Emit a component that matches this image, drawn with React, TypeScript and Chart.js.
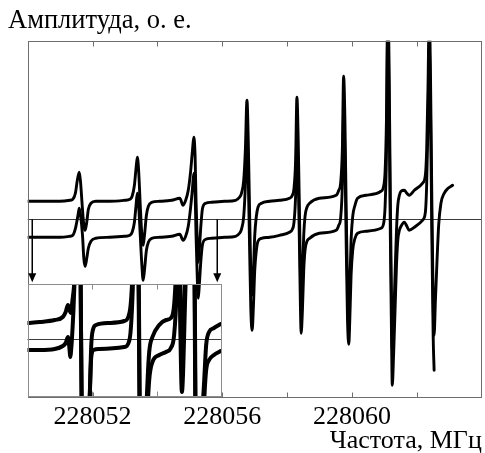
import React, { useEffect, useRef } from "react";
import { Chart, registerables } from "chart.js";

Chart.register(...registerables);

// ---------- data (frequency in MHz, amplitude in relative units) ----------
const upperFreq = [
  228050.0, 228050.99, 228051.3,
  228051.39, 228051.47, 228051.53, 228051.59, 228051.63, 228051.68, 228051.73, 228051.77, 228051.82, 228051.87, 228051.95, 228052.1,
  228052.53, 228052.99, 228053.15,
  228053.22, 228053.29, 228053.34, 228053.38, 228053.42, 228053.47, 228053.52, 228053.56, 228053.6, 228053.66, 228053.72, 228053.82, 228054.07,
  228054.44, 228054.69, 228054.79, 228054.87,
  228054.95, 228055.02, 228055.08, 228055.12, 228055.16, 228055.19, 228055.23, 228055.26, 228055.29, 228055.34, 228055.39, 228055.49, 228055.67,
  228056.07, 228056.41, 228056.53,
  228056.59, 228056.66, 228056.71, 228056.76, 228056.8, 228056.84, 228056.88, 228056.92, 228056.96, 228057.0, 228057.05, 228057.1, 228057.21, 228057.46,
  228057.76, 228058.07, 228058.16,
  228058.21, 228058.26, 228058.3, 228058.34, 228058.38, 228058.41, 228058.43, 228058.47, 228058.51, 228058.55, 228058.61, 228058.69, 228058.99, 228059.51, 228059.59,
  228059.65, 228059.7, 228059.74, 228059.78, 228059.82, 228059.86, 228059.9, 228059.93, 228059.97, 228060.02, 228060.09, 228060.17, 228060.43, 228060.89, 228060.98,
  228061.02, 228061.06, 228061.1, 228061.14, 228061.18, 228061.22, 228061.24, 228061.28, 228061.33, 228061.37, 228061.41, 228061.46, 228061.51, 228061.61, 228061.69, 228061.76, 228061.92, 228062.17, 228062.26,
  228062.3, 228062.34, 228062.38, 228062.42, 228062.46, 228062.5, 228062.53, 228062.57, 228062.62, 228062.67, 228062.74, 228062.84, 228062.96, 228063.1,
];
const upperAmp = [
  0.18, 0.18, 0.19,
  0.2, 0.26, 0.39, 0.47, 0.37, 0.14, -0.06, -0.11, -0.03, 0.1, 0.16, 0.18,
  0.18, 0.19, 0.2,
  0.23, 0.34, 0.51, 0.62, 0.49, 0.14, -0.16, -0.26, -0.16, 0.04, 0.13, 0.17, 0.18,
  0.19, 0.21, 0.14, 0.19,
  0.29, 0.47, 0.69, 0.82, 0.64, 0.19, -0.26, -0.43, -0.31, -0.06, 0.11, 0.16, 0.17,
  0.18, 0.19, 0.22,
  0.26, 0.39, 0.69, 1.19, 0.79, 0.09, -0.56, -0.76, -0.51, -0.16, 0.03, 0.12, 0.16, 0.18,
  0.19, 0.21, 0.24,
  0.31, 0.59, 1.22, 0.79, 0.04, -0.56, -0.79, -0.56, -0.16, 0.03, 0.12, 0.16, 0.21, 0.24, 0.29,
  0.37, 0.69, 1.43, 0.99, 0.09, -0.66, -0.9, -0.66, -0.21, 0.03, 0.14, 0.21, 0.24, 0.28, 0.34,
  0.49, 0.99, 2.19, 1.59, 0.19, -0.91, -1.3, -1.01, -0.51, -0.11, 0.14, 0.24, 0.28, 0.29, 0.26, 0.24, 0.29, 0.36, 0.44,
  0.69, 1.29, 2.09, 1.39, 0.19, -0.81, -1.16, -0.81, -0.41, -0.06, 0.16, 0.26, 0.31, 0.34,
];

const lowerFreq = [
  228050.0, 228050.99, 228051.3,
  228051.39, 228051.48, 228051.55, 228051.59, 228051.63, 228051.69, 228051.73, 228051.77, 228051.82, 228051.87, 228051.95, 228052.1,
  228052.53, 228052.99, 228053.15,
  228053.22, 228053.29, 228053.34, 228053.38, 228053.42, 228053.47, 228053.52, 228053.56, 228053.6, 228053.66, 228053.72, 228053.82, 228054.07,
  228054.44, 228054.69, 228054.79, 228054.87,
  228054.95, 228055.02, 228055.08, 228055.12, 228055.16, 228055.19, 228055.23, 228055.26, 228055.29, 228055.34, 228055.39, 228055.49, 228055.67,
  228056.07, 228056.41, 228056.53,
  228056.59, 228056.66, 228056.71, 228056.76, 228056.8, 228056.84, 228056.88, 228056.92, 228056.96, 228057.0, 228057.05, 228057.1, 228057.21, 228057.46,
  228057.76, 228058.07, 228058.16,
  228058.21, 228058.26, 228058.3, 228058.34, 228058.38, 228058.41, 228058.43, 228058.47, 228058.51, 228058.55, 228058.61, 228058.69, 228058.99, 228059.51, 228059.59,
  228059.65, 228059.7, 228059.74, 228059.78, 228059.82, 228059.86, 228059.9, 228059.93, 228059.97, 228060.02, 228060.09, 228060.17, 228060.43, 228060.89, 228060.98,
  228061.02, 228061.06, 228061.1, 228061.14, 228061.18, 228061.22, 228061.24, 228061.28, 228061.33, 228061.37, 228061.41, 228061.46, 228061.51, 228061.61, 228061.69, 228061.76, 228061.92, 228062.17, 228062.26,
  228062.3, 228062.34, 228062.38, 228062.42, 228062.46, 228062.5, 228062.53,
];
const lowerAmp = [
  -0.18, -0.18, -0.17,
  -0.16, -0.08, 0.04, 0.11, 0.04, -0.16, -0.39, -0.47, -0.39, -0.29, -0.22, -0.19,
  -0.18, -0.17, -0.16,
  -0.13, -0.03, 0.14, 0.26, 0.14, -0.16, -0.46, -0.61, -0.51, -0.31, -0.23, -0.19, -0.18,
  -0.17, -0.15, -0.21, -0.17,
  -0.07, 0.11, 0.31, 0.46, 0.29, -0.16, -0.61, -0.79, -0.66, -0.41, -0.25, -0.2, -0.19,
  -0.18, -0.17, -0.14,
  -0.1, 0.03, 0.33, 0.83, 0.43, -0.27, -0.91, -1.11, -0.86, -0.51, -0.31, -0.22, -0.19, -0.18,
  -0.16, -0.13, -0.1,
  -0.03, 0.24, 0.86, 0.44, -0.31, -0.91, -1.14, -0.91, -0.51, -0.31, -0.22, -0.19, -0.14, -0.11, -0.06,
  0.02, 0.34, 1.07, 0.64, -0.26, -1.01, -1.25, -1.01, -0.56, -0.31, -0.19, -0.14, -0.12, -0.09, -0.03,
  0.14, 0.64, 1.83, 1.24, -0.16, -1.26, -1.66, -1.36, -0.86, -0.46, -0.21, -0.11, -0.07, -0.03, -0.07, -0.11, -0.08, -0.01, 0.07,
  0.34, 0.94, 1.73, 1.04, -0.16, -1.16, -1.51,
];

// inset (magnified part of the spectrum)
const insetUpperFreq = [
  228050.0, 228050.38, 228050.84, 228051.09, 228051.18, 228051.25, 228051.3, 228051.34, 228051.39, 228051.44,
  228051.49, 228051.59, 228051.69, 228051.76, 228051.86, 228051.92, 228051.97, 228052.02, 228052.12, 228052.53,
  228052.99, 228053.15, 228053.21, 228053.27, 228053.38, 228053.48, 228053.56, 228053.64, 228053.71, 228053.76,
  228053.86, 228054.07, 228054.28, 228054.43, 228054.53, 228054.59, 228054.66, 228054.77, 228054.89, 228054.99,
  228055.12, 228055.2, 228055.26, 228055.36, 228055.46, 228055.52, 228055.61, 228055.76, 228055.97,
];
const insetUpperAmp = [
  0.32, 0.34, 0.38, 0.44, 0.54, 0.68, 0.58, 0.52, 0.78, 1.08,
  1.78, 3.78, -2.22, -3.62, -2.42, -1.22, -0.12, 0.18, 0.28, 0.32,
  0.36, 0.52, 0.88, 1.78, 4.78, -2.22, -4.22, -2.02, -0.82, -0.26,
  0.04, 0.28, 0.38, 0.42, 0.68, 1.38, 2.78, -0.52, 1.78, 3.18,
  4.78, -2.22, -4.22, -2.02, -0.82, -0.12, 0.14, 0.22, 0.3,
];
const insetLowerFreq = [
  228050.0, 228050.38, 228050.84, 228051.09, 228051.18, 228051.25, 228051.3, 228051.32, 228051.36, 228051.42,
  228051.49, 228051.59, 228051.69, 228051.76, 228051.86, 228051.92, 228051.97, 228052.04, 228052.22, 228052.99,
  228053.15, 228053.21, 228053.27, 228053.38, 228053.48, 228053.56, 228053.64, 228053.71, 228053.76, 228053.86,
  228054.07, 228054.28, 228054.43, 228054.53, 228054.61, 228054.66, 228054.77, 228054.89, 228054.99, 228055.12,
  228055.2, 228055.26, 228055.36, 228055.46, 228055.52, 228055.61, 228055.76, 228055.97,
];
const insetLowerAmp = [
  -0.22, -0.22, -0.2, -0.14, -0.08, 0.04, -0.22, -0.36, -0.12, 0.58,
  1.78, 3.78, -2.22, -4.22, -2.22, -1.22, -0.36, -0.22, -0.2, -0.16,
  -0.02, 0.38, 1.38, 4.78, -3.22, -5.22, -2.82, -1.42, -0.82, -0.46,
  -0.32, -0.26, -0.18, 0.08, 0.98, 2.18, -1.06, 1.18, 2.38, 4.78,
  -3.22, -5.22, -2.82, -1.22, -0.62, -0.42, -0.32, -0.24,
];

const tickLabels = [228052, 228056, 228060];
const mainTickMarks = [228052, 228054, 228056, 228058, 228060, 228062];
const insetTickMarks = [228052, 228054];
const arrowFreq = [228050.14, 228055.84];
const arrowFrom = 0.0;
const arrowTo = -0.63;

const SERIF = '"Liberation Serif", "Times New Roman", serif';

function toPoints(xs: number[], ys: number[]) {
  return xs.map((x, i) => ({ x, y: ys[i] }));
}

function drawFrame(chart: any, marks: number[], frameColor: string) {
  const { ctx, chartArea: a, scales } = chart;
  ctx.save();
  ctx.lineWidth = 1;
  ctx.strokeStyle = frameColor;
  const l = Math.round(a.left) + 0.5;
  const t = Math.round(a.top) + 0.5;
  const r = Math.round(a.right) - 0.5;
  const b = Math.round(a.bottom) - 0.5;
  ctx.strokeRect(l, t, r - l, b - t);
  ctx.beginPath();
  for (const v of marks) {
    const px = Math.round(scales.x.getPixelForValue(v)) + 0.5;
    ctx.moveTo(px, t);
    ctx.lineTo(px, t + 5);
    ctx.moveTo(px, b);
    ctx.lineTo(px, b - 5);
  }
  ctx.stroke();
  ctx.restore();
}

function drawZero(chart: any, color: string) {
  const { ctx, chartArea: a, scales } = chart;
  const y = Math.round(scales.y.getPixelForValue(0)) + 0.5;
  ctx.save();
  ctx.strokeStyle = color;
  ctx.lineWidth = 1;
  ctx.beginPath();
  ctx.moveTo(a.left, y);
  ctx.lineTo(a.right, y);
  ctx.stroke();
  ctx.restore();
}

const mainDecor = {
  id: "mainDecor",
  beforeDatasetsDraw(chart: any) {
    drawZero(chart, "#3a3a3a");
  },
  afterDatasetsDraw(chart: any) {
    drawFrame(chart, mainTickMarks, "#6e6e6e");
    const { ctx, scales } = chart;
    ctx.save();
    ctx.strokeStyle = "#000";
    ctx.fillStyle = "#000";
    ctx.lineWidth = 1.5;
    for (const f of arrowFreq) {
      const x = Math.round(scales.x.getPixelForValue(f)) + 0.25;
      const y0 = scales.y.getPixelForValue(arrowFrom);
      const y1 = scales.y.getPixelForValue(arrowTo);
      ctx.beginPath();
      ctx.moveTo(x, y0);
      ctx.lineTo(x, y1 - 6);
      ctx.stroke();
      ctx.beginPath();
      ctx.moveTo(x - 4, y1 - 9);
      ctx.lineTo(x + 4, y1 - 9);
      ctx.lineTo(x, y1);
      ctx.closePath();
      ctx.fill();
    }
    ctx.restore();
  },
};

const insetDecor = {
  id: "insetDecor",
  beforeDatasetsDraw(chart: any) {
    drawZero(chart, "#3a3a3a");
  },
  afterDatasetsDraw(chart: any) {
    drawFrame(chart, insetTickMarks, "#8c8c8c");
  },
};

export default function App() {
  const mainRef = useRef<HTMLCanvasElement>(null);
  const insetRef = useRef<HTMLCanvasElement>(null);

  useEffect(() => {
    const lineStyle = {
      showLine: true,
      pointRadius: 0,
      borderColor: "#000",
      backgroundColor: "#000",
      cubicInterpolationMode: "monotone" as const,
      borderJoinStyle: "round" as const,
      borderCapStyle: "round" as const,
      clip: 0,
    };

    const main = new Chart(mainRef.current as HTMLCanvasElement, {
      type: "scatter",
      data: {
        datasets: [
          { ...lineStyle, label: "upper", data: toPoints(upperFreq, upperAmp), borderWidth: 2.9 },
          { ...lineStyle, label: "lower", data: toPoints(lowerFreq, lowerAmp), borderWidth: 2.9 },
        ],
      },
      options: {
        responsive: false,
        animation: false,
        events: [],
        layout: { padding: { left: 8, right: 2.3, top: 5.9, bottom: 0 } },
        plugins: {
          legend: { display: false },
          tooltip: { enabled: false },
          title: {
            display: true,
            text: "Амплитуда, о. е.",
            align: "start",
            color: "#000",
            font: { family: SERIF, size: 26.5, weight: "normal", lineHeight: 1.18 },
            padding: { top: 0, bottom: 3.5 },
          },
        },
        scales: {
          x: {
            type: "linear",
            min: 228050,
            max: 228064,
            grid: { display: false, drawTicks: false },
            border: { display: false },
            ticks: {
              stepSize: 2,
              autoSkip: false,
              maxRotation: 0,
              padding: 3.2,
              color: "#000",
              font: { family: SERIF, size: 26 },
              callback: (v: any) => (tickLabels.includes(Number(v)) ? String(v) : ""),
            },
            title: {
              display: true,
              text: "Частота, МГц",
              align: "end",
              color: "#000",
              font: { family: SERIF, size: 26, lineHeight: 0.9 },
              padding: { top: 0, bottom: 0 },
            },
            afterFit: (s: any) => {
              s.height = 55;
            },
          },
          y: {
            type: "linear",
            min: -1.787,
            max: 1.786,
            grid: { display: false, drawTicks: false },
            border: { display: false },
            ticks: { display: false },
            afterFit: (s: any) => {
              s.width = 19.7;
            },
          },
        },
      },
      plugins: [mainDecor],
    } as any);

    const inset = new Chart(insetRef.current as HTMLCanvasElement, {
      type: "scatter",
      data: {
        datasets: [
          { ...lineStyle, label: "upper", data: toPoints(insetUpperFreq, insetUpperAmp), borderWidth: 4 },
          { ...lineStyle, label: "lower", data: toPoints(insetLowerFreq, insetLowerAmp), borderWidth: 4 },
        ],
      },
      options: {
        responsive: false,
        animation: false,
        events: [],
        layout: { padding: { left: 0.5, right: 1.3, top: 1, bottom: 1.5 } },
        plugins: { legend: { display: false }, tooltip: { enabled: false }, title: { display: false } },
        scales: {
          x: {
            type: "linear",
            min: 228050,
            max: 228056,
            display: false,
          },
          y: {
            type: "linear",
            min: -1.15,
            max: 1.1,
            display: false,
          },
        },
      },
      plugins: [insetDecor],
    } as any);

    return () => {
      main.destroy();
      inset.destroy();
    };
  }, []);

  return (
    <div
      style={{
        position: "absolute",
        left: 0,
        top: 0,
        width: 485,
        height: 453,
        background: "#fff",
        overflow: "hidden",
      }}
    >
      <canvas
        ref={mainRef}
        width={485}
        height={453}
        style={{ position: "absolute", left: 0, top: 0, width: 485, height: 453 }}
      />
      <canvas
        ref={insetRef}
        width={196}
        height={115}
        style={{ position: "absolute", left: 27, top: 283, width: 196, height: 115 }}
      />
    </div>
  );
}
